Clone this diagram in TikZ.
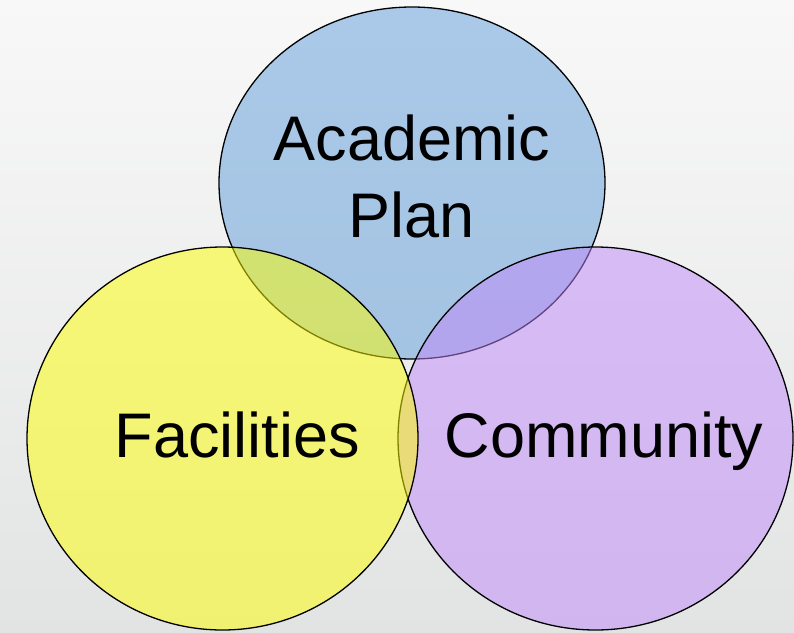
\documentclass[tikz,border=0pt]{standalone}
\usepackage{fontspec}
\setmainfont{Liberation Sans}
\usepackage{xcolor}
\usetikzlibrary{shapes.geometric}
\definecolor{bgTop}{RGB}{248,248,248}
\definecolor{bgBottom}{RGB}{226,228,227}
\definecolor{vennBlue}{HTML}{5E9CDA}
\definecolor{vennYellow}{HTML}{FFFF00}
\definecolor{vennPurple}{HTML}{C088FA}
\tikzset{
    venn/.style={ellipse, draw=black, line width=1.3pt, fill opacity=0.5, inner sep=0pt},
    vennLabel/.style={anchor=base, align=center, text=black, font=\fontsize{63}{77}\selectfont}
}

\begin{document}
\begin{tikzpicture}[x=1pt, y=-1pt]
    % Background
    \shade [top color=bgTop, bottom color=bgBottom] (0,0) rectangle (794,632);
    \useasboundingbox (0,0) rectangle (794,632);

    % Circles
    \node [venn, fill=vennBlue, minimum width=386pt, minimum height=352pt] (plan) at (412,183) {};
    \node [venn, fill=vennPurple, minimum width=395pt, minimum height=383pt] (community) at (595.5,438.5) {};
    \node [venn, fill=vennYellow, minimum width=391pt, minimum height=383pt] (facilities) at (222.5,438.5) {};

    % Labels
    \node [vennLabel] (planText) at (412,237) {Academic\\Plan};
    \node [vennLabel] (facilitiesText) at (237.5,457) {Facilities};
    \node [vennLabel] (communityText) at (604,457) {Community};
\end{tikzpicture}
\end{document}
